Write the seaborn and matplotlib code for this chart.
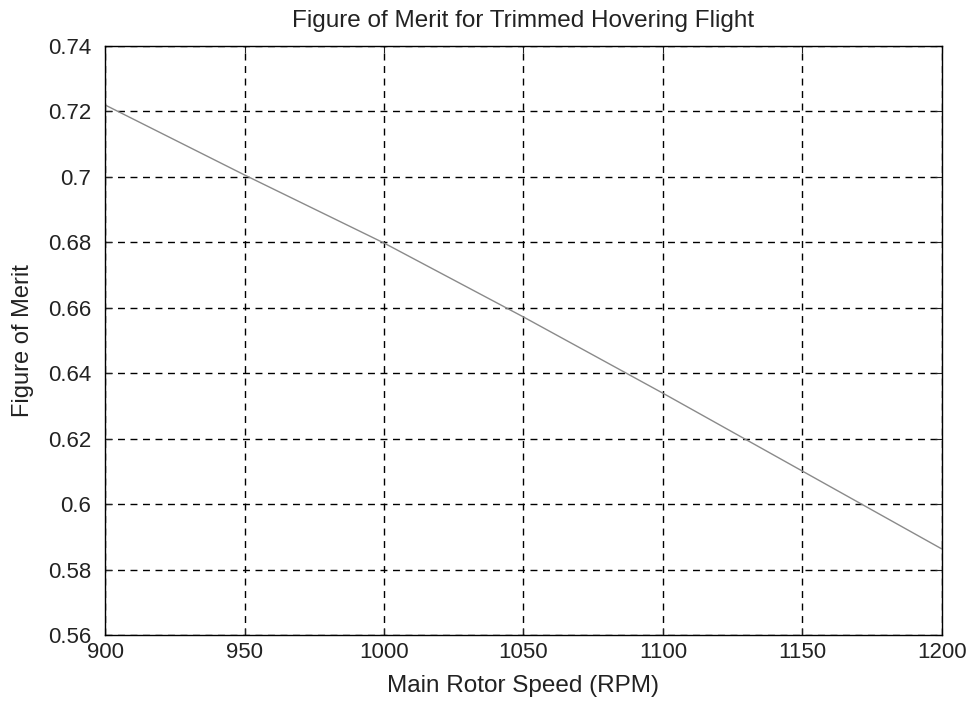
import matplotlib
matplotlib.use("Agg")
import matplotlib.pyplot as plt
import seaborn as sns
import pandas as pd

rpm = [900, 950, 1000, 1050, 1100, 1150, 1200]
merit = [0.722, 0.7006, 0.6798, 0.6572, 0.6339, 0.6101, 0.5863]
xticks = [900, 950, 1000, 1050, 1100, 1150, 1200]
yticks = [0.56, 0.58, 0.6, 0.62, 0.64, 0.66, 0.68, 0.7, 0.72, 0.74]
ytick_labels = ["0.56", "0.58", "0.6", "0.62", "0.64", "0.66", "0.68", "0.7", "0.72", "0.74"]

sns.set_style("white")
plt.rcParams['font.family'] = ['Liberation Sans', 'DejaVu Sans']

df = pd.DataFrame({"rpm": rpm, "merit": merit})

fig = plt.figure(figsize=(9.73, 7.02), dpi=100)
ax = fig.add_axes([0.108, 0.0954, 0.860, 0.839])
sns.lineplot(data=df, x="rpm", y="merit", ax=ax, color="#8a8a8a", linewidth=1.0)

ax.set_xlim(900, 1200)
ax.set_ylim(0.56, 0.74)
ax.set_xticks(xticks)
ax.set_yticks(yticks)
ax.set_yticklabels(ytick_labels)
ax.grid(True, color="black", linestyle=(0, (5, 4)), linewidth=1.0)
for s in ax.spines.values():
    s.set_color("black")
    s.set_linewidth(1.0)
ax.tick_params(direction="in", length=5, colors="#222222", labelsize=16,
               top=True, right=True, bottom=True, left=True)
ax.tick_params(axis="x", pad=5)
ax.tick_params(axis="y", pad=10)
ax.set_xlabel("Main Rotor Speed (RPM)", fontsize=17.5, labelpad=9, color="#222222")
ax.set_ylabel("Figure of Merit", fontsize=17, labelpad=10, color="#222222")
ax.set_title("Figure of Merit for Trimmed Hovering Flight", fontsize=17.5, pad=14, color="#222222")

fig.savefig("out.png", dpi=100)
